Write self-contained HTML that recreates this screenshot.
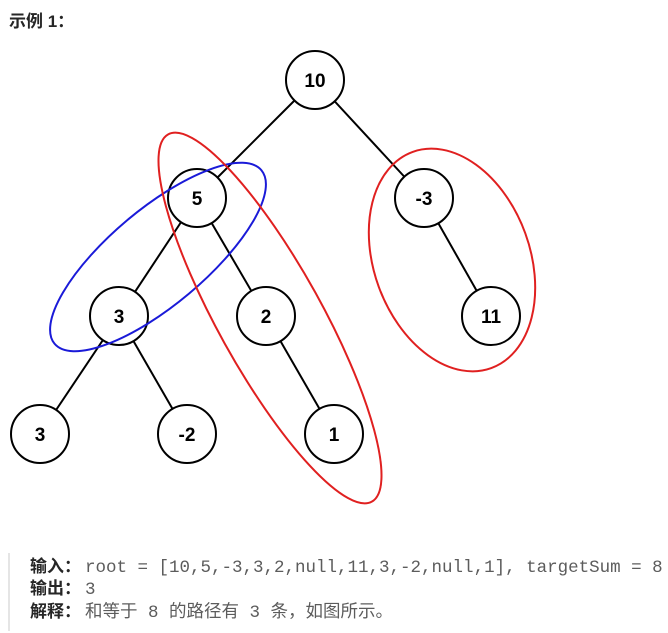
<!DOCTYPE html><html><head><meta charset="utf-8"><style>
body{margin:0;width:668px;height:633px;background:#fff;position:relative;font-family:"Liberation Sans","Noto Sans CJK SC",sans-serif;overflow:hidden}
.t{position:absolute;left:9px;top:7px;font-size:17px;font-weight:bold;color:#262626}
.bar{position:absolute;left:8px;top:553px;width:2px;height:78px;background:#e5e5e5}
.l{position:absolute;left:30px;font-size:17.5px;line-height:22px;color:#5c5c5c;font-family:"Liberation Mono","Noto Sans CJK SC",monospace;white-space:nowrap}
.l b{color:#262626;font-size:17px;font-family:"Liberation Sans","Noto Sans CJK SC",sans-serif;margin-right:4px}
</style></head><body>
<div class="t">示例 1：</div>
<svg width="668" height="540" style="position:absolute;left:0;top:0">
<g stroke="#000" stroke-width="2">
<line x1="315" y1="80" x2="197" y2="198"/><line x1="315" y1="80" x2="424" y2="198"/>
<line x1="197" y1="198" x2="119" y2="316"/><line x1="197" y1="198" x2="266" y2="316"/>
<line x1="424" y1="198" x2="491" y2="316"/><line x1="119" y1="316" x2="40" y2="434"/>
<line x1="119" y1="316" x2="187" y2="434"/><line x1="266" y1="316" x2="334" y2="434"/>
</g>
<g fill="#fff" stroke="#000" stroke-width="2">
<circle cx="315" cy="80" r="29"/><circle cx="197" cy="198" r="29"/><circle cx="424" cy="198" r="29"/>
<circle cx="119" cy="316" r="29"/><circle cx="266" cy="316" r="29"/><circle cx="491" cy="316" r="29"/>
<circle cx="40" cy="434" r="29"/><circle cx="187" cy="434" r="29"/><circle cx="334" cy="434" r="29"/>
</g>
<g font-family="Liberation Sans" font-weight="bold" font-size="19" text-anchor="middle" fill="#000">
<text x="315" y="87">10</text><text x="197" y="205">5</text><text x="424" y="205">-3</text>
<text x="119" y="323">3</text><text x="266" y="323">2</text><text x="491" y="323">11</text>
<text x="40" y="441">3</text><text x="187" y="441">-2</text><text x="334" y="441">1</text>
</g>
<g fill="none" stroke-width="2">
<ellipse cx="158" cy="257" rx="135" ry="48" transform="rotate(-40 158 257)" stroke="#1a1ad8"/>
<ellipse cx="270" cy="318" rx="210" ry="52" transform="rotate(61 270 318)" stroke="#e02020"/>
<ellipse cx="452" cy="260" rx="115" ry="78" transform="rotate(70 452 260)" stroke="#e02020"/>
</g>
</svg>
<div class="bar"></div>
<div class="l" style="top:556px"><b>输入：</b>root = [10,5,-3,3,2,null,11,3,-2,null,1], targetSum = 8</div>
<div class="l" style="top:578px"><b>输出：</b>3</div>
<div class="l" style="top:601px"><b>解释：</b>和等于 8 的路径有 3 条，如图所示。</div>
</body></html>
